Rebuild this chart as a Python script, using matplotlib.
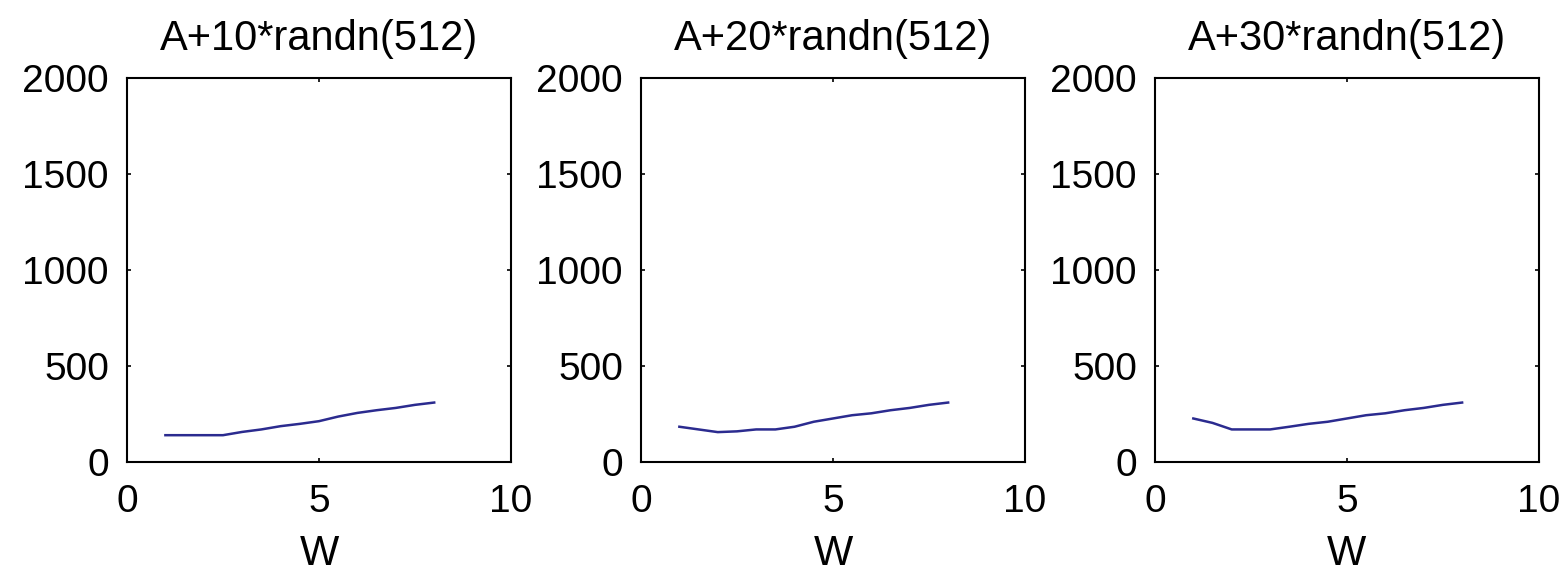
import matplotlib.pyplot as plt

# window sizes and the three noise levels
w = [1, 1.5, 2, 2.5, 3, 3.5, 4, 4.5, 5, 5.5, 6, 6.5, 7, 7.5, 8]
noise10 = [140, 140, 140, 140, 157, 170, 187, 199, 213, 237, 256, 270, 282, 298, 310]
noise20 = [184, 170, 156, 160, 170, 170, 184, 210, 227, 244, 254, 270, 282, 298, 310]
noise30 = [227, 204, 170, 170, 170, 184, 199, 210, 227, 244, 254, 270, 282, 298, 310]
titles = ['A+10*randn(512)', 'A+20*randn(512)', 'A+30*randn(512)']

plt.rcParams['font.family'] = ['Liberation Sans', 'DejaVu Sans']

fig = plt.figure(figsize=(15.66, 5.74), dpi=100)
lefts = [0.0811, 0.4093, 0.7375]

for left, ys, title in zip(lefts, [noise10, noise20, noise30], titles):
    ax = fig.add_axes([left, 0.195, 0.2452, 0.669])
    ax.plot(w, ys, color='#2b2b8f', lw=1.8)
    ax.set_xlim(0, 10)
    ax.set_ylim(0, 2000)
    ax.set_xticks([0, 5, 10])
    ax.set_yticks([0, 500, 1000, 1500, 2000])
    ax.tick_params(direction='in', length=3, width=1.2, labelsize=28,
                   top=True, right=True)
    ax.tick_params(axis='x', pad=16)
    ax.tick_params(axis='y', pad=13)
    for s in ax.spines.values():
        s.set_linewidth(1.5)
    ax.set_title(title, fontsize=30, pad=20)
    ax.set_xlabel('W', fontsize=30, labelpad=10)

fig.savefig('out.png', dpi=100)
